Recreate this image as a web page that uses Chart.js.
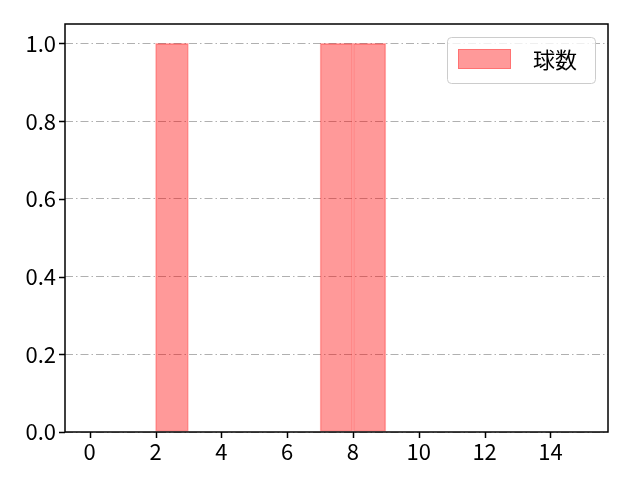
<!DOCTYPE html>
<html>
<head>
<meta charset="utf-8">
<script src="https://cdn.jsdelivr.net/npm/chart.js@4/dist/chart.umd.min.js"></script>
<style>
  body { margin: 0; background: #fff; }
  canvas { display: block; }
</style>
</head>
<body>
<canvas id="myChart" width="640" height="480"></canvas>
<script>
// histogram bins (left edges) and counts
var binEdges = [0, 1, 2, 3, 4, 5, 6, 7, 8, 9, 10, 11, 12, 13, 14, 15]
var counts = [0, 0, 1, 0, 0, 0, 0, 1, 1, 0, 0, 0, 0, 0, 0]
var xTicks = [0, 2, 4, 6, 8, 10, 12, 14]
var yTicks = [0.0, 0.2, 0.4, 0.6, 0.8, 1.0]
var seriesLabel = '球数'

var FONT = "'Noto Sans CJK JP', 'Noto Sans', sans-serif"
var myChart

function get_data() {
    var data = []
    for (var i = 0; i < counts.length; i++) {
        data.push({
            x: (binEdges[i] + binEdges[i + 1]) / 2,
            y: counts[i] > 0 ? counts[i] : null
        })
    }
    return data
}

// frame, tick marks and the legend box, like matplotlib
var framePlugin = {
    id: 'frame',
    afterDraw: function (chart) {
        var ctx = chart.ctx
        var a = chart.chartArea
        var xs = chart.scales.x
        var ys = chart.scales.y
        ctx.save()
        ctx.strokeStyle = '#000'
        ctx.lineWidth = 1.5
        ctx.strokeRect(a.left, a.top, a.right - a.left, a.bottom - a.top)
        ctx.beginPath()
        xTicks.forEach(function (t) {
            var px = Math.round(xs.getPixelForValue(t)) + 0.5
            ctx.moveTo(px, a.bottom)
            ctx.lineTo(px, a.bottom + 6)
        })
        yTicks.forEach(function (t) {
            var py = Math.round(ys.getPixelForValue(t)) + 0.5
            ctx.moveTo(a.left, py)
            ctx.lineTo(a.left - 6, py)
        })
        ctx.stroke()

        // legend
        var bx = a.right - 161, by = a.top + 13, bw = 148, bh = 46
        ctx.beginPath()
        ctx.roundRect(bx + 0.5, by + 0.5, bw, bh, 4)
        ctx.fillStyle = 'rgba(255,255,255,0.8)'
        ctx.fill()
        ctx.strokeStyle = '#cccccc'
        ctx.lineWidth = 1
        ctx.stroke()
        ctx.fillStyle = 'rgba(255,0,0,0.4)'
        ctx.fillRect(bx + 11, by + 12, 53, 20)
        ctx.strokeStyle = 'rgba(255,0,0,0.25)'
        ctx.strokeRect(bx + 11.5, by + 12.5, 52, 19)
        ctx.fillStyle = '#000'
        ctx.font = '22px ' + FONT
        ctx.textBaseline = 'middle'
        ctx.fillText(seriesLabel, bx + 86, by + 23)
        ctx.restore()
    }
}

function Graphic() {
    var ctx = document.getElementById('myChart')
    myChart = new Chart(ctx, {
        type: 'bar',
        data: {
            datasets: [{
                label: seriesLabel,
                data: get_data(),
                backgroundColor: 'rgba(255,0,0,0.4)',
                borderColor: 'rgba(255,0,0,0.3)',
                borderWidth: 1,
                borderSkipped: false,
                barPercentage: 1,
                categoryPercentage: 1
            }]
        },
        options: {
            responsive: false,
            animation: false,
            events: [],
            layout: { padding: { top: 24, right: 32, left: 0, bottom: 0 } },
            plugins: {
                legend: { display: false },
                tooltip: { enabled: false }
            },
            scales: {
                x: {
                    type: 'linear',
                    offset: false,
                    min: -0.75,
                    max: 15.75,
                    afterBuildTicks: function (scale) {
                        scale.ticks = xTicks.map(function (v) { return { value: v } })
                    },
                    afterFit: function (scale) { scale.height = 48 },
                    grid: { display: false, drawTicks: false, offset: false },
                    border: { display: false },
                    ticks: {
                        color: '#000',
                        padding: 6,
                        maxRotation: 0,
                        font: { family: FONT, size: 22 },
                        callback: function (v) { return '' + v }
                    }
                },
                y: {
                    min: 0,
                    max: 1.05,
                    afterBuildTicks: function (scale) {
                        scale.ticks = yTicks.map(function (v) { return { value: v } })
                    },
                    afterFit: function (scale) { scale.width = 65 },
                    grid: { color: '#b0b0b0', lineWidth: 1, drawTicks: false },
                    border: { display: false, dash: [8, 3, 1.5, 3] },
                    ticks: {
                        color: '#000',
                        padding: 9,
                        font: { family: FONT, size: 22 },
                        callback: function (v) { return (+v).toFixed(1) }
                    }
                }
            }
        },
        plugins: [framePlugin]
    })
}

window.addEventListener('load', Graphic)
</script>
</body>
</html>
